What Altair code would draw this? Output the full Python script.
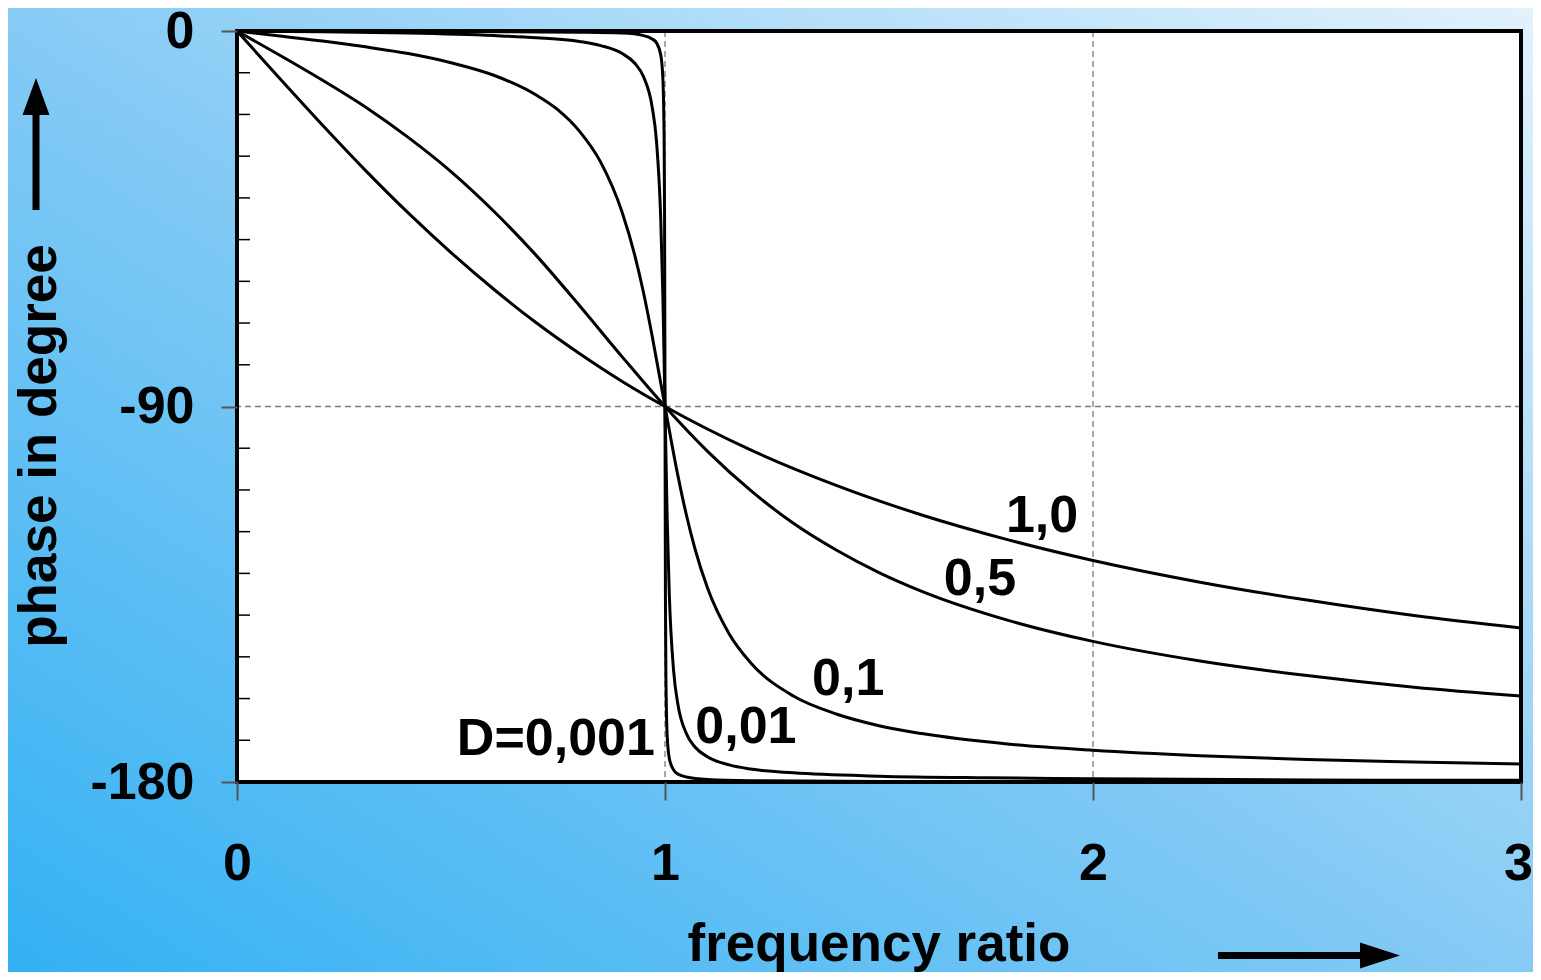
import altair as alt
import pandas as pd

# ---- data ----
D_VALUES = ["1,0", "0,5", "0,1", "0,01", "0,001"]

X_D100 = [0, 0.1, 0.2, 0.3, 0.4, 0.5, 0.6, 0.7, 0.8, 0.9, 1.0, 1.2, 1.4, 1.6, 1.8, 2.0, 2.25, 2.5, 2.75, 3.0]
Y_D100 = [0, -11.4, -22.6, -33.4, -43.6, -53.1, -61.9, -70.0, -77.3, -84.0, -90.0, -100.4, -108.9, -116.0,
          -121.9, -126.9, -132.1, -136.4, -140.1, -143.1]

X_D050 = [0, 0.1, 0.2, 0.3, 0.4, 0.5, 0.6, 0.7, 0.8, 0.9, 1.0, 1.1, 1.2, 1.3, 1.4, 1.5, 1.6, 1.8, 2.0, 2.25,
          2.5, 2.75, 3.0]
Y_D050 = [0, -5.8, -11.8, -18.2, -25.5, -33.7, -43.2, -53.9, -65.8, -78.1, -90.0, -100.8, -110.1, -118.0,
          -124.4, -129.8, -134.3, -141.2, -146.3, -151.0, -154.5, -157.3, -159.4]

X_D010 = [0, 0.1, 0.2, 0.3, 0.4, 0.5, 0.6, 0.7, 0.75, 0.8, 0.85, 0.9, 0.93, 0.95, 0.97, 1.0, 1.03, 1.05, 1.07,
          1.1, 1.15, 1.2, 1.3, 1.4, 1.5, 1.6, 1.8, 2.0, 2.25, 2.5, 2.75, 3.0]
Y_D010 = [0, -1.2, -2.4, -3.8, -5.4, -7.6, -10.6, -15.4, -18.9, -24.0, -31.5, -43.5, -54.0, -62.8, -73.1, -90.0,
          -106.5, -116.0, -124.1, -133.7, -144.5, -151.4, -159.4, -163.7, -166.5, -168.4, -170.9, -172.4,
          -173.7, -174.6, -175.2, -175.7]

X_D001 = [0, 0.2, 0.4, 0.6, 0.7, 0.8, 0.85, 0.9, 0.93, 0.95, 0.97, 0.98, 0.99, 0.995, 1.0, 1.005, 1.01, 1.02,
          1.03, 1.05, 1.07, 1.1, 1.15, 1.2, 1.3, 1.5, 1.75, 2.0, 2.5, 3.0]
Y_D001 = [0, -0.2, -0.5, -1.1, -1.6, -2.5, -3.5, -5.4, -7.8, -11.0, -18.2, -26.3, -44.9, -63.4, -90.0, -116.5,
          -134.9, -153.2, -161.3, -168.4, -171.6, -174.0, -175.9, -176.9, -177.8, -178.6, -179.0, -179.2,
          -179.5, -179.6]

X_D0001 = [0, 0.5, 0.8, 0.9, 0.95, 0.97, 0.98, 0.99, 0.995, 0.998, 0.999, 1.0, 1.001, 1.002, 1.005, 1.01, 1.02,
           1.03, 1.05, 1.1, 1.2, 1.5, 2.0, 3.0]
Y_D0001 = [0, -0.1, -0.3, -0.5, -1.1, -1.9, -2.8, -5.7, -11.3, -26.5, -45.0, -90.0, -135.0, -153.4, -168.7,
           -174.3, -177.1, -178.1, -178.8, -179.4, -179.7, -179.9, -179.9, -180.0]

LABEL_TEXT = ["1,0", "0,5", "0,1", "0,01", "D=0,001"]
LABEL_X = [1.881, 1.736, 1.428, 1.189, 0.745]
LABEL_Y = [-120.1, -135.2, -159.2, -170.7, -173.5]

X_TICKS = [0, 1, 2, 3]
Y_TICKS = [0, -90, -180]
Y_MINOR = [-10, -20, -30, -40, -50, -60, -70, -80, -100, -110, -120, -130, -140, -150, -160, -170]
X_GRID = [1, 2]
Y_GRID = [-90]

X_TITLE = "frequency ratio"
Y_TITLE = "phase in degree"

# ---- build tables ----
rows = []
for d, xs, ys in zip(D_VALUES, [X_D100, X_D050, X_D010, X_D001, X_D0001],
                     [Y_D100, Y_D050, Y_D010, Y_D001, Y_D0001]):
    for x, y in zip(xs, ys):
        rows.append({"D": d, "ratio": x, "phase": y})
curves_df = pd.DataFrame(rows)
labels_df = pd.DataFrame({"t": LABEL_TEXT, "lx": LABEL_X, "ly": LABEL_Y})
one = pd.DataFrame({"k": [0]})

# ---- layout ----
W, H = 1284, 751
PAD = {"left": 229, "top": 23, "right": 12, "bottom": 190}
FONT = "Liberation Sans"

xscale = alt.Scale(domain=[0, 3], nice=False, zero=False)
yscale = alt.Scale(domain=[-180, 0], nice=False, zero=False)

x_axis = alt.Axis(values=X_TICKS, title=None, grid=False, domain=False, ticks=True, tickSize=18,
                  tickColor="#555555", tickWidth=2, labelFont=FONT, labelFontSize=52, labelFontWeight="bold",
                  labelColor="black", labelPadding=38, labelFlush=False, labelOverlap=False, zindex=1,
                  labelOffset={"condition": {"test": "datum.value == 3", "value": -3}, "value": 0},
                  labelExpr="'' + datum.value")
y_axis = alt.Axis(values=Y_TICKS, title=None, grid=False, domain=False, ticks=True, tickSize=16,
                  tickColor="#555555", tickWidth=2, labelFont=FONT, labelFontSize=52, labelFontWeight="bold",
                  labelColor="black", labelPadding=27, labelFlush=False, labelOverlap=False, zindex=1,
                  labelExpr="'' + datum.value")

grad = alt.Gradient(
    gradient="linear",
    stops=[alt.GradientStop(color="#33b1f3", offset=0),
           alt.GradientStop(color="#86cbf5", offset=0.5),
           alt.GradientStop(color="#e2f2fd", offset=1)],
    x1=0, y1=1, x2=1, y2=0,
)

bg = alt.Chart(one).mark_rect(fill=grad).encode(
    x=alt.value(-PAD["left"]), x2=alt.value(W + PAD["right"]),
    y=alt.value(-PAD["top"]), y2=alt.value(H + PAD["bottom"]))

plot_bg = alt.Chart(one).mark_rect(fill="white").encode(
    x=alt.value(0), x2=alt.value(W), y=alt.value(0), y2=alt.value(H))

grid_x = alt.Chart(pd.DataFrame({"g": X_GRID})).mark_rule(
    color="#7a7a7a", strokeWidth=1.3, strokeDash=[6, 4]).encode(
    x=alt.X("g:Q", scale=xscale, axis=x_axis))

grid_y = alt.Chart(pd.DataFrame({"h": Y_GRID})).mark_rule(
    color="#7a7a7a", strokeWidth=1.3, strokeDash=[6, 4]).encode(
    y=alt.Y("h:Q", scale=yscale, axis=y_axis))

minor = alt.Chart(pd.DataFrame({"m": Y_MINOR})).mark_rule(color="black", strokeWidth=1.5).encode(
    y=alt.Y("m:Q", scale=yscale, axis=y_axis), x=alt.value(0), x2=alt.value(13))

curves = alt.Chart(curves_df).mark_line(color="black", strokeWidth=3, interpolate="monotone").encode(
    x=alt.X("ratio:Q", scale=xscale, axis=x_axis),
    y=alt.Y("phase:Q", scale=yscale, axis=y_axis),
    detail="D:N",
)

frame = alt.Chart(one).mark_rect(fill="transparent", stroke="black", strokeWidth=4).encode(
    x=alt.value(0), x2=alt.value(W), y=alt.value(0), y2=alt.value(H))

labels = alt.Chart(labels_df).mark_text(
    font=FONT, fontSize=52, fontWeight="bold", color="black", align="center", baseline="alphabetic").encode(
    x=alt.X("lx:Q", scale=xscale, axis=x_axis),
    y=alt.Y("ly:Q", scale=yscale, axis=y_axis),
    text="t:N",
)

ytitle = alt.Chart(one).mark_text(
    text=Y_TITLE, angle=270, font=FONT, fontSize=53, fontWeight="bold", color="black",
    align="center", baseline="alphabetic").encode(x=alt.value(56 - 237), y=alt.value(446 - 31))

xtitle = alt.Chart(one).mark_text(
    text=X_TITLE, font=FONT, fontSize=53, fontWeight="bold", color="black",
    align="center", baseline="alphabetic").encode(x=alt.value(879 - 237), y=alt.value(961 - 31))

yarrow_shaft = alt.Chart(one).mark_rule(color="black", strokeWidth=7).encode(
    x=alt.value(36 - 237), y=alt.value(210 - 31), y2=alt.value(112 - 31))
yarrow_head = alt.Chart(one).mark_point(
    shape="M0,-1.37L1,1.37L-1,1.37Z", size=729, filled=True, fill="black", opacity=1, strokeWidth=0).encode(
    x=alt.value(36 - 237), y=alt.value(96.5 - 31))

xarrow_shaft = alt.Chart(one).mark_rule(color="black", strokeWidth=7).encode(
    x=alt.value(1218 - 237), x2=alt.value(1362 - 237), y=alt.value(955.5 - 31))
xarrow_head = alt.Chart(one).mark_point(
    shape="M1.54,0L-1.54,-1L-1.54,1Z", size=676, filled=True, fill="black", opacity=1, strokeWidth=0).encode(
    x=alt.value(1380 - 237), y=alt.value(955.5 - 31))

chart = alt.layer(
    bg, plot_bg, grid_x, grid_y, minor, curves, frame, labels, ytitle, xtitle,
    yarrow_shaft, yarrow_head, xarrow_shaft, xarrow_head,
).properties(
    width=W, height=H, padding=PAD, autosize=alt.AutoSizeParams(type="none"), background="#86cbf5",
).configure_view(strokeWidth=0)

chart.save("out.html", embed_options={"renderer": "svg", "actions": False})
